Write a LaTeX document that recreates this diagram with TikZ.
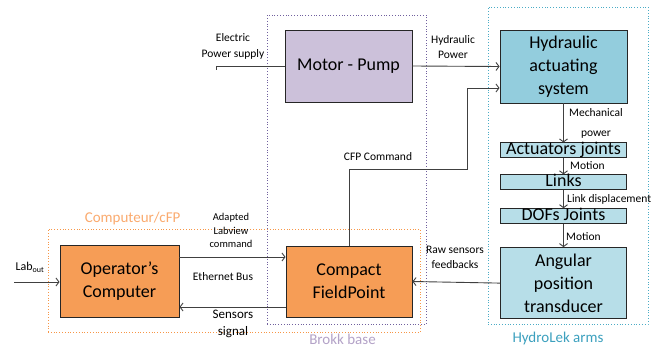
\documentclass[tikz,border=0pt]{standalone}
\usepackage{fontspec}
\setmainfont{Carlito}
\usetikzlibrary{calc,positioning,arrows.meta}

\definecolor{motorfill}{RGB}{204,193,218}
\definecolor{hydrofill}{RGB}{147,205,221}
\definecolor{jointfill}{RGB}{183,222,232}
\definecolor{orangefill}{RGB}{246,157,86}
\definecolor{brokkline}{RGB}{112,96,158}
\definecolor{brokktext}{RGB}{179,162,199}
\definecolor{hydroline}{RGB}{75,172,198}
\definecolor{hydrotext}{RGB}{60,160,190}
\definecolor{cfpline}{RGB}{247,150,70}
\definecolor{cfptext}{RGB}{250,170,110}

\begin{document}
\begin{tikzpicture}[
    x=1pt, y=-1pt,
    node distance=16pt,
    block/.style={rectangle, draw=black!85, line width=0.9pt, inner sep=0pt, align=center, font=\fontsize{18}{23}\selectfont},
    bigblock/.style={block, minimum width=127pt, minimum height=72pt},
    jointbox/.style={block, fill=jointfill, minimum width=126pt, text height=12pt, text depth=3pt, inner ysep=0pt},
    arrow/.style={-{Straight Barb[length=3pt,width=8pt]}, line width=0.9pt, black!75},
    wire/.style={line width=0.9pt, black!75},
    flowlabel/.style={font=\fontsize{11.5}{15}\selectfont, align=center, inner sep=0pt},
    group/.style={rectangle, dotted, line width=0.8pt, inner sep=0pt},
    grouplabel/.style={font=\fontsize{15}{18}\selectfont, inner sep=0pt},
]

\useasboundingbox (0,0) rectangle (661,350);

% Groups
\node[group, draw=brokkline, minimum width=159pt, minimum height=309pt] (brokk) at (346.5,169.5) {};
\node[grouplabel, text=brokktext] at ($(brokk.south) + (-4,15)$) {Brokk base};
\node[group, draw=hydroline, minimum width=160pt, minimum height=317pt] (hydrolek) at (568,165.5) {};
\node[grouplabel, text=hydrotext] at ($(hydrolek.south) + (-10,14)$) {HydroLek arms};
\node[group, draw=cfpline, minimum width=372pt, minimum height=103pt] (computeur) at (234,280.5) {};
\node[grouplabel, text=cfptext] at ($(computeur.north west) + (85,-10)$) {Computeur/cFP};

% Blocks
\node[bigblock, fill=motorfill] (motor) at (348.5,66) {Motor - Pump};
\node[bigblock, fill=hydrofill, minimum height=73pt] (hydraulic) at (563.5,66.5) {Hydraulic\\actuating\\system};
\node[jointbox, below=39pt of hydraulic] (actuators) {Actuators joints};
\node[jointbox, below=16pt of actuators] (links) {Links};
\node[jointbox, below=18pt of links] (dofs) {DOFs Joints};
\node[bigblock, fill=jointfill, minimum width=126pt, minimum height=71pt, below=23pt of dofs] (angular) {Angular\\position\\transducer};
\node[bigblock, fill=orangefill, minimum width=119pt] (operator) at (119.5,281) {Operator’s\\Computer};
\node[bigblock, fill=orangefill, minimum width=126pt, minimum height=71pt] (cfp) at (349,281.5) {Compact\\FieldPoint};

% Power and command lines
\coordinate (elec-in) at (216,66);
\draw[wire] (elec-in) -- ++(0,4);
\draw[wire] (elec-in) -- (motor.west);
\node[flowlabel, font=\fontsize{11.5}{16}\selectfont] at (233,46) {Electric\\Power supply};
\draw[arrow] (motor.east) -- (hydraulic.west);
\node[flowlabel] at (453,47.5) {Hydraulic\\Power};
\coordinate (cmd-turn) at (467,169);
\draw[arrow] (cfp.north) |- (cmd-turn) |- ($(hydraulic.west) + (0,21.5)$);
\node[flowlabel] at (378,157) {CFP Command};

% Arm chain
\draw[arrow] (hydraulic.south) -- (actuators.north);
\node[flowlabel] at (596,123) {Mechanical\\[5pt]power};
\draw[arrow] (actuators.south) -- (links.north);
\node[flowlabel, anchor=west] at (570,166) {Motion};
\draw[arrow] (links.south) -- (dofs.north);
\node[flowlabel, anchor=west] at (567,199) {Link displacement};
\draw[arrow] (dofs.south) -- (angular.north);
\node[flowlabel, anchor=west] at (566,237) {Motion};

% Feedback and bus
\draw[arrow] (angular.west) -- (cfp.east);
\node[flowlabel] at (455,257) {Raw sensors\\feedbacks};
\draw[arrow] (operator.east |- 0,257) -- (cfp.west |- 0,257);
\node[flowlabel, font=\fontsize{10.5}{13.5}\selectfont] at (231,230.5) {Adapted\\Labview\\command};
\node[flowlabel] at (223,277) {Ethernet Bus};
\draw[arrow] (cfp.west |- 0,307) -- (operator.east |- 0,307);
\node[flowlabel, font=\fontsize{13}{17}\selectfont] at (233,323.5) {Sensors\\signal};
\coordinate (lab-in) at (14,282);
\draw[arrow] (lab-in) -- (operator.west |- lab-in);
\node[flowlabel, font=\fontsize{12}{14}\selectfont] at (30,267) {Lab\textsubscript{out}};

\end{tikzpicture}
\end{document}
